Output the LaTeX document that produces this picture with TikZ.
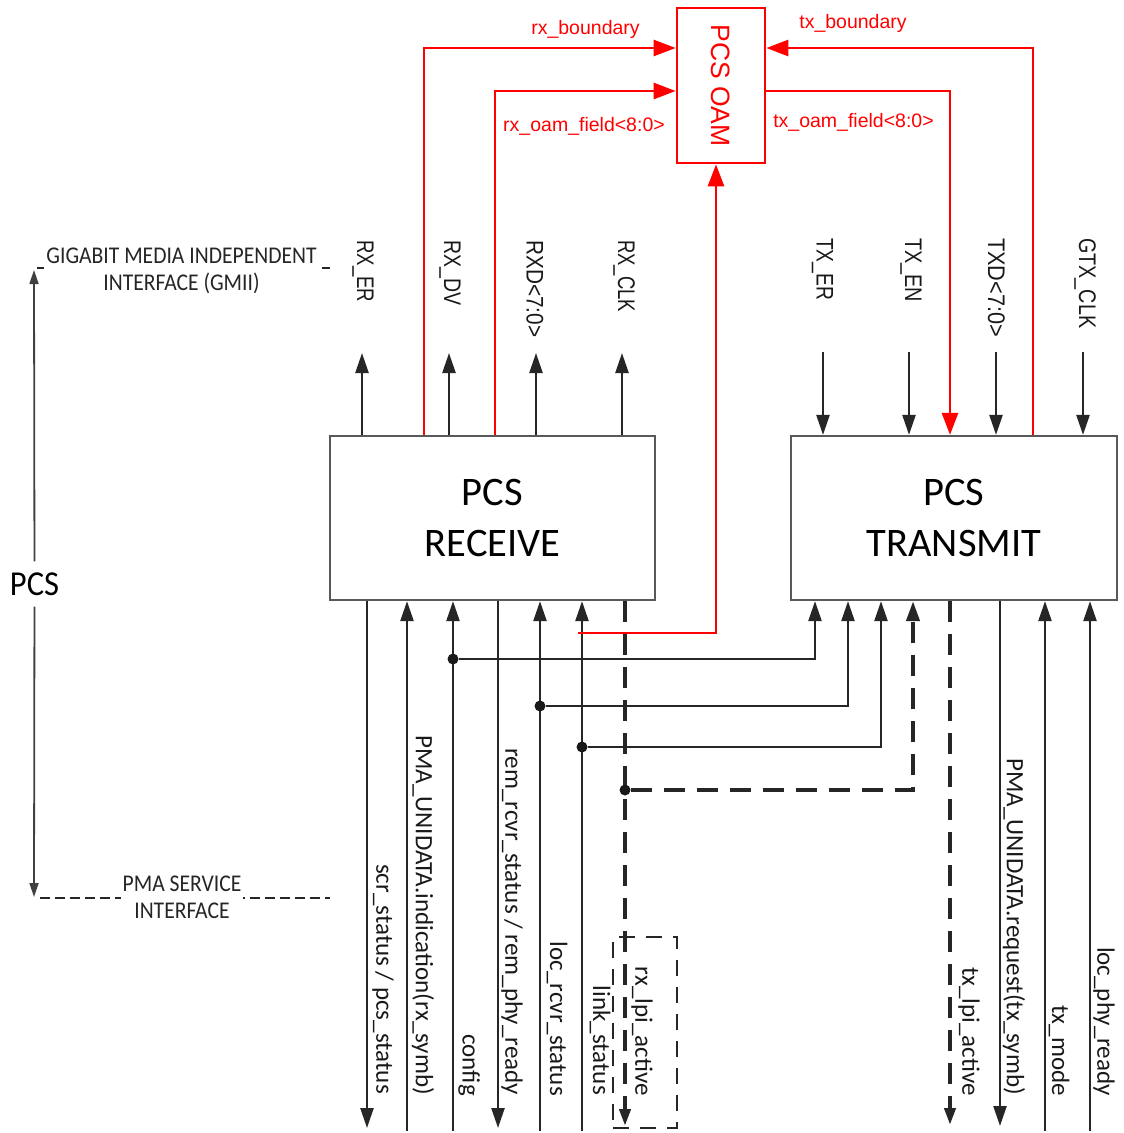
\documentclass[tikz,border=0pt]{standalone}
\usepackage{graphicx}
\usepackage{fontspec}
\setmainfont{Carlito}
\newfontfamily\arialf{Liberation Sans}
\usetikzlibrary{arrows.meta}
\newcommand\toplab[2]{\resizebox{#1pt}{\height}{\arialf\fontsize{24}{28}\selectfont #2}}
\begin{document}
\begin{tikzpicture}[x=1pt,y=-1pt,
  wire/.style={line width=2.4pt, draw=black!85},
  tipb/.style={-{Triangle[length=20pt,width=13pt]}},
  tips/.style={-{Triangle[length=17pt,width=11pt]}},
  redw/.style={line width=2.7pt, draw=red},
  tipr/.style={-{Triangle[length=22pt,width=16pt]}},
  dsh/.style={line width=4pt, dash pattern=on 21pt off 12pt},
  blockbox/.style={draw=black!65, line width=2.2pt, inner sep=0pt, minimum height=164pt,
     align=center, font=\fontsize{40.5}{51}\selectfont},
  toplabel/.style={rotate=-90, anchor=west, inner sep=0pt, text=black!90},
  botlabel/.style={rotate=-90, anchor=east, inner sep=0pt, font=\fontsize{25}{30}\selectfont, text=black!90},
  redlabel/.style={anchor=base, inner sep=0pt, text=red, font=\arialf\fontsize{19.5}{23}\selectfont},
  dotn/.style={circle, fill=black!90, inner sep=0pt, minimum size=11pt},
  ifacelabel/.style={fill=white, inner sep=2pt, align=center, font=\fontsize{24}{27}\selectfont, text=black!85},
  ifaceline/.style={line width=2.5pt, draw=black!85, dash pattern=on 10pt off 5pt},
]
\useasboundingbox (0,0) rectangle (1124,1133);

% ---------- blocks ----------
\node[blockbox, minimum width=325pt] (rx) at (492.5,518) {PCS\\RECEIVE};
\node[blockbox, minimum width=326pt] (tx) at (954,518) {PCS\\TRANSMIT};
\node[draw=red, line width=2.7pt, minimum width=88pt, minimum height=155pt, inner sep=0pt, text=red]
  (oam) at (721,85.5) {\rotatebox{-90}{\arialf\fontsize{26.5}{30}\selectfont PCS OAM}};

% ---------- GMII receive outputs ----------
\coordinate (rxo1) at (362,353);
\coordinate (rxo2) at (449,353);
\coordinate (rxo3) at (536,353);
\coordinate (rxo4) at (622,353);
\draw[wire,tipb] (rx.north -| rxo1) -- (rxo1);
\draw[wire,tipb] (rx.north -| rxo2) -- (rxo2);
\draw[wire,tipb] (rx.north -| rxo3) -- (rxo3);
\draw[wire,tipb] (rx.north -| rxo4) -- (rxo4);
\node[toplabel] (lrxer) at (363,240) {\toplab{62}{RX\_ER}};
\node[toplabel] (lrxdv) at (450,240) {\toplab{65}{RX\_DV}};
\node[toplabel] (lrxd) at (535,240) {\toplab{97}{RXD<7:0>}};
\node[toplabel] (lrxclk) at (624,240) {\toplab{72}{RX\_CLK}};

% ---------- GMII transmit inputs ----------
\coordinate (txi1) at (823,352);
\coordinate (txi2) at (909,352);
\coordinate (txi3) at (996,352);
\coordinate (txi4) at (1083,352);
\draw[wire,tipb] (txi1) -- (tx.north -| txi1);
\draw[wire,tipb] (txi2) -- (tx.north -| txi2);
\draw[wire,tipb] (txi3) -- (tx.north -| txi3);
\draw[wire,tipb] (txi4) -- (tx.north -| txi4);
\node[toplabel] (ltxer) at (822.5,238) {\toplab{62}{TX\_ER}};
\node[toplabel] (ltxen) at (911,238) {\toplab{64}{TX\_EN}};
\node[toplabel] (ltxd) at (996.5,238) {\toplab{99}{TXD<7:0>}};
\node[toplabel] (lgtx) at (1085,238) {\toplab{90}{GTX\_CLK}};

% ---------- PCS OAM connections ----------
\coordinate (rb) at (424,48);
\coordinate (ro) at (495,91);
\coordinate (tb) at (1033,48);
\coordinate (to) at (950,91);
\coordinate (ob) at (578,633);
\coordinate (oc) at (716,633);
\draw[redw,tipr] (rx.north -| rb) |- (oam.west |- rb);
\draw[redw,tipr] (rx.north -| ro) |- (oam.west |- ro);
\draw[redw,tipr] (tx.north -| tb) |- (oam.east |- tb);
\draw[redw,tipr] (oam.east |- to) -| (tx.north -| to);
\node[redlabel] (lrb) at (585.5,34) {rx\_boundary};
\node[redlabel] (ltb) at (853,28) {tx\_boundary};
\node[redlabel] (lro) at (584,131) {rx\_oam\_field<8:0>};
\node[redlabel] (lto) at (853.5,127) {tx\_oam\_field<8:0>};

% ---------- receive bottom ----------
\coordinate (b1) at (367,1128);
\coordinate (b2) at (407,1131);
\coordinate (b3) at (453,1131);
\coordinate (b4) at (498,1128);
\coordinate (b5) at (540,1131);
\coordinate (b6) at (582,1131);
\coordinate (b7) at (625,1126);
\draw[wire,tipb] (rx.south -| b1) -- (b1);
\draw[wire,tipb] (b2) -- (rx.south -| b2);
\draw[wire,tipb] (b3) -- (rx.south -| b3);
\draw[wire,tipb] (rx.south -| b4) -- (b4);
\draw[wire,tipb] (b5) -- (rx.south -| b5);
\draw[wire,tipb] (b6) -- (rx.south -| b6);
\draw[wire,dsh,tips] (rx.south -| b7) -- (b7);

% red return from OAM (drawn over receive lines)
\draw[redw,tipr] (ob) -- (oc) -- (oam.south -| oc);

% ---------- cross connections ----------
\node[dotn] (d1) at (453,659) {};
\node[dotn] (d2) at (540,706) {};
\node[dotn] (d3) at (582,747) {};
\node[dotn] (d4) at (625,790) {};
\coordinate (t1) at (815,659);
\coordinate (t2) at (848,706);
\coordinate (t3) at (881,747);
\coordinate (t4) at (913,790);
\draw[wire,tipb] (d1) -- (t1) -- (tx.south -| t1);
\draw[wire,tipb] (d2) -- (t2) -- (tx.south -| t2);
\draw[wire,tipb] (d3) -- (t3) -- (tx.south -| t3);
\draw[wire,dsh,tipb] (d4) -- (t4) -- (tx.south -| t4);

% ---------- transmit bottom ----------
\coordinate (c1) at (950,1125);
\coordinate (c2) at (1000,1126);
\coordinate (c3) at (1045,1131);
\coordinate (c4) at (1090,1131);
\draw[wire,dsh,tips] (tx.south -| c1) -- (c1);
\draw[wire,tipb] (tx.south -| c2) -- (c2);
\draw[wire,tipb] (c3) -- (tx.south -| c3);
\draw[wire,tipb] (c4) -- (tx.south -| c4);

% ---------- bottom labels ----------
\node[botlabel] (l1) at (383,1094) {scr\_status / pcs\_status};
\node[botlabel] (l2) at (423,1095) {PMA\_UNIDATA.indication(rx\_symb)};
\node[botlabel] (l3) at (469,1096) {config};
\node[botlabel] (l4) at (512,1095) {rem\_rcvr\_status / rem\_phy\_ready};
\node[botlabel] (l5) at (557,1096) {loc\_rcvr\_status};
\node[botlabel] (l6) at (600,1095) {link\_status};
\node[botlabel] (l7) at (642,1096) {rx\_lpi\_active};
\node[botlabel] (l8) at (969,1096) {tx\_lpi\_active};
\node[botlabel] (l9) at (1014,1095) {PMA\_UNIDATA.request(tx\_symb)};
\node[botlabel] (l10) at (1059,1096) {tx\_mode};
\node[botlabel] (l11) at (1104,1096) {loc\_phy\_ready};

% dashed box around rx_lpi_active
\node[draw=black!85, line width=2.5pt, dash pattern=on 16pt off 11pt, minimum width=64pt,
  minimum height=191pt, inner sep=0pt] (lpibox) at (645,1032.5) {};

% ---------- left: PCS span and interfaces ----------
\coordinate (g1) at (37,268);
\coordinate (g2) at (330,268);
\coordinate (g3) at (40,898);
\coordinate (g4) at (330,898);
\draw[ifaceline] (g1) -- (g2);
\draw[ifaceline] (g3) -- (g4);
\node[ifacelabel] (gmii) at (181.5,271) {\scalebox{0.9}[1]{GIGABIT MEDIA INDEPENDENT}\\\scalebox{0.9}[1]{INTERFACE (GMII)}};
\node[ifacelabel] (pma) at (182,897.5) {\scalebox{0.9}[1]{PMA SERVICE}\\\scalebox{0.9}[1]{INTERFACE}};
\node[inner xsep=0pt, inner ysep=11pt, font=\fontsize{35}{40}\selectfont] (pcsl) at (34.5,584) {\scalebox{0.93}[1]{PCS}};
\coordinate (gtop) at (34,270);
\coordinate (gbot) at (34,897);
\draw[line width=1.8pt, draw=black!75, -{Triangle[length=14pt,width=9pt]}] (pcsl) -- (gtop);
\draw[line width=1.8pt, draw=black!75, -{Triangle[length=14pt,width=9pt]}] (pcsl) -- (gbot);
\end{tikzpicture}
\end{document}
